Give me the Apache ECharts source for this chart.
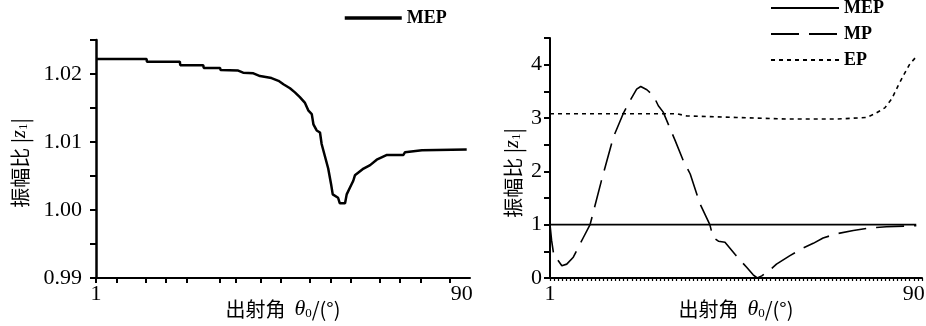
<!DOCTYPE html>
<html>
<head>
<meta charset="utf-8">
<script src="https://cdn.jsdelivr.net/npm/echarts@6/dist/echarts.min.js"></script>
<style>
  html, body { margin: 0; padding: 0; background: #fff; }
  #chart { width: 926px; height: 326px; }
</style>
</head>
<body>
<div id="chart"></div>
<script>
// 左图：MEP 振幅比
const leftAngles = [1, 13.3, 13.4, 21.4, 21.5, 27.1, 27.2, 31.2, 31.3, 35.6, 36.8, 39.3, 40.9, 43.7, 45.4, 46.6, 48.2, 49.4, 50.6, 51.8, 52.7, 53.5, 53.9, 54.7, 55.5, 55.9, 56.7, 57.5, 58.2, 58.6, 59.9, 60.3, 61.6, 62, 62.8, 63.6, 64, 66.1, 67.7, 69.3, 71.8, 75.8, 76.2, 80.3, 91.2];
const leftMEP = [1.0222, 1.0222, 1.0218, 1.0218, 1.0213, 1.0213, 1.0209, 1.0209, 1.0206, 1.0205, 1.0202, 1.0201, 1.0197, 1.0194, 1.0190, 1.0185, 1.0179, 1.0173, 1.0166, 1.0158, 1.0146, 1.0141, 1.0126, 1.0117, 1.0114, 1.0097, 1.0079, 1.0061, 1.0038, 1.0023, 1.0018, 1.0010, 1.0010, 1.0023, 1.0033, 1.0043, 1.0051, 1.0061, 1.0066, 1.0074, 1.0081, 1.0081, 1.0085, 1.0088, 1.0089];

// 右图：MEP / MP / EP
const rightMEPAngles = [1, 90.6];
const rightMEP = [1, 1];
const mpAngles = [1, 1.4, 2.0, 2.5, 3.9, 5.1, 6.7, 9.1, 10.8, 13.6, 16.5, 18.9, 20.6, 22.2, 23.2, 24.7, 26.3, 27.5, 28.7, 29.9, 31.6, 33.6, 35.3, 37.7, 40.1, 40.9, 42.2, 43.8, 46.3, 49.1, 50.7, 51.7, 52.8, 54.8, 56.4, 59.7, 62.9, 65.4, 67.8, 71.1, 75.2, 79.2, 83.3, 90.6];
const mpValues = [1.0, 0.7, 0.39, 0.38, 0.23, 0.26, 0.39, 0.75, 1.0, 1.83, 2.64, 3.08, 3.33, 3.54, 3.59, 3.53, 3.42, 3.23, 3.11, 2.89, 2.58, 2.2, 1.95, 1.39, 1.0, 0.76, 0.69, 0.67, 0.44, 0.2, 0.06, 0.0, 0.04, 0.15, 0.26, 0.42, 0.56, 0.65, 0.75, 0.83, 0.89, 0.94, 0.96, 0.98];
const epAngles = [1, 22.2, 32, 34.4, 46.6, 58.8, 71.1, 78.4, 80.5, 82.9, 84.6, 86.2, 87.4, 89.0, 90.6];
const epValues = [3.08, 3.08, 3.08, 3.04, 3.01, 2.98, 2.98, 3.01, 3.08, 3.19, 3.36, 3.61, 3.79, 4.01, 4.15];

// 刻度
const xLabelValues = [1, 90];
const leftXTicks = [1, 6, 13, 18, 23, 31, 35, 41, 46, 53, 58, 63, 70, 75, 80, 87];

const zip = (xs, ys) => xs.map((x, i) => [x, ys[i]]);

const serif = '"Liberation Serif", "DejaVu Serif", serif';
const cjk = '"Noto Sans CJK SC", sans-serif';

const yName = '振幅比 |{z|z}{s|1}|';
const xName = '出射角  {t|θ}{s|0}/(°)';
const nameRich = {
  z: { fontFamily: serif, fontStyle: 'italic', fontSize: 20, color: '#000' },
  t: { fontFamily: serif, fontStyle: 'italic', fontSize: 22, color: '#000' },
  s: { fontFamily: serif, fontSize: 13, color: '#000', verticalAlign: 'bottom', lineHeight: 16 }
};

const axisLineStyle = { color: '#000', width: 2 };
const noSymbol = { color: 'transparent', borderWidth: 0 };

const chart = echarts.init(document.getElementById('chart'));
chart.setOption({
  backgroundColor: '#fff',
  animation: false,
  legend: [
    {
      left: 343, top: 9, padding: 0,
      data: ['MEP'],
      itemWidth: 57, itemHeight: 14,
      itemStyle: noSymbol,
      lineStyle: { width: 3.5, color: '#000' },
      textStyle: { fontFamily: serif, fontWeight: 'bold', fontSize: 18, color: '#000' }
    },
    {
      left: 770, top: -1, padding: 0, orient: 'vertical',
      data: ['MEP ', 'MP', 'EP'],
      itemWidth: 68, itemHeight: 14, itemGap: 8,
      itemStyle: noSymbol,
      textStyle: { fontFamily: serif, fontWeight: 'bold', fontSize: 18, color: '#000', lineHeight: 18 }
    }
  ],
  grid: [
    { left: 96, right: 456, top: 40, bottom: 48, outerBoundsMode: 'none', containLabel: false },
    { left: 550, right: 4, top: 38, bottom: 48, outerBoundsMode: 'none', containLabel: false }
  ],
  xAxis: [0, 1].map(i => ({
    type: 'value', gridIndex: i, min: 1, max: 92,
    interval: i === 1 ? 1 : undefined,
    splitLine: { show: false },
    axisLine: { lineStyle: axisLineStyle },
    axisTick: i === 0
      ? { customValues: leftXTicks, length: 5, lineStyle: { width: 2, color: '#000' } }
      : { length: 3, lineStyle: { width: 1.2, color: '#000' } },
    axisLabel: {
      customValues: xLabelValues, margin: 5,
      fontFamily: serif, fontSize: 22, color: '#000'
    },
    name: xName, nameLocation: 'middle', nameGap: 20, nameMoveOverlap: false,
    nameTextStyle: { fontFamily: cjk, fontSize: 20, color: '#000', rich: nameRich }
  })),
  yAxis: [
    {
      type: 'value', gridIndex: 0, min: 0.99, max: 1.025, interval: 0.005,
      splitLine: { show: false },
      axisLine: { show: true, lineStyle: { color: '#000', width: 2.5 } },
      axisTick: { length: 6, lineStyle: { width: 2, color: '#000' } },
      axisLabel: {
        margin: 14, fontFamily: serif, fontSize: 22, color: '#000',
        formatter: v => (Math.round(v * 1000) % 10 === 0 ? v.toFixed(2) : '')
      },
      name: yName, nameLocation: 'middle', nameGap: 66, nameMoveOverlap: false,
      nameTextStyle: { fontFamily: cjk, fontSize: 20, color: '#000', rich: nameRich, padding: [0, 8, 0, 0] }
    },
    {
      type: 'value', gridIndex: 1, min: 0, max: 4.5, interval: 0.5,
      splitLine: { show: false },
      axisLine: { show: true, lineStyle: axisLineStyle },
      axisTick: { length: 6, lineStyle: { width: 2, color: '#000' } },
      axisLabel: {
        margin: 8, fontFamily: serif, fontSize: 22, color: '#000',
        formatter: v => (Math.abs(v - Math.round(v)) < 1e-6 ? String(Math.round(v)) : '')
      },
      name: yName, nameLocation: 'middle', nameGap: 27, nameMoveOverlap: false,
      nameTextStyle: { fontFamily: cjk, fontSize: 20, color: '#000', rich: nameRich, padding: [0, 30, 0, 0] }
    }
  ],
  series: [
    {
      name: 'MEP', type: 'line', xAxisIndex: 0, yAxisIndex: 0,
      data: zip(leftAngles, leftMEP), symbol: 'none',
      itemStyle: { color: '#000' },
      lineStyle: { color: '#000', width: 2.5 }
    },
    {
      name: 'MEP ', type: 'line', xAxisIndex: 1, yAxisIndex: 1,
      data: zip(rightMEPAngles, rightMEP), symbol: 'none',
      itemStyle: { color: '#000' },
      lineStyle: { color: '#000', width: 1.6 }
    },
    {
      name: 'MP', type: 'line', xAxisIndex: 1, yAxisIndex: 1,
      data: zip(mpAngles, mpValues), symbol: 'none',
      itemStyle: { color: '#000' },
      lineStyle: { color: '#000', width: 1.6, type: [28, 10] }
    },
    {
      name: 'EP', type: 'line', xAxisIndex: 1, yAxisIndex: 1,
      data: zip(epAngles, epValues), symbol: 'none',
      itemStyle: { color: '#000' },
      lineStyle: { color: '#000', width: 1.6, type: [4, 4] }
    }
  ]
});
</script>
</body>
</html>
